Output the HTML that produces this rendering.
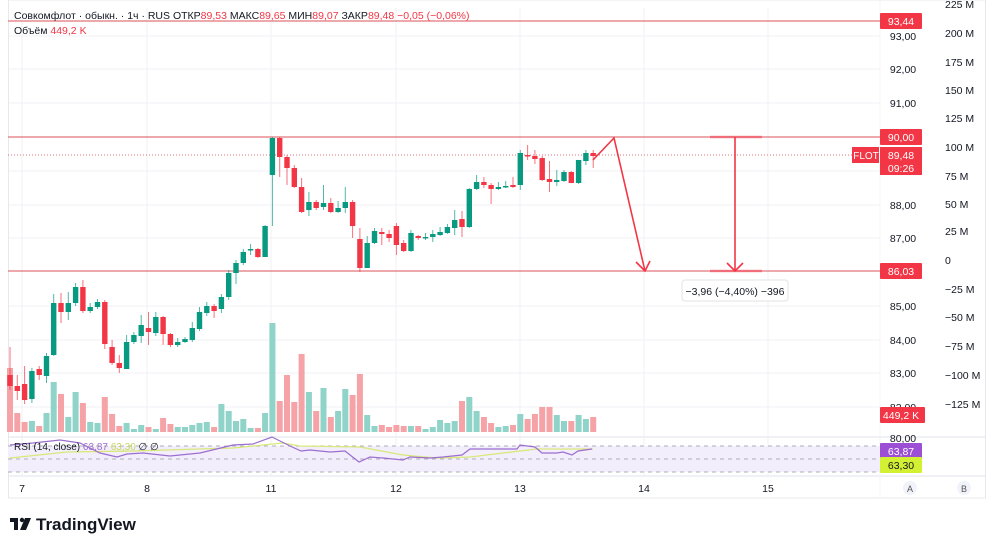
<!DOCTYPE html>
<html><head><meta charset="utf-8">
<style>
html,body{margin:0;padding:0;background:#fff;width:1000px;height:550px;overflow:hidden;font-family:"Liberation Sans","Noto Sans CJK SC",sans-serif;}
svg{position:absolute;left:0;top:0}
</style></head><body>
<svg id="s" width="1000" height="550" xmlns="http://www.w3.org/2000/svg" font-family="Liberation Sans, sans-serif"></svg>
<script>
var C=[
[375,386,0,347,390],[386,391,0,375,400],[384,400,0,366,404],[371,399,1,368,403],[369,375,0,366,380],[356,376,1,353,383],[303,355,1,294,356],[303,312,0,293,323],[303,312,1,292,320],[287,303,1,283,306],
[287,311,0,280,313],[307,311,1,303,313],[302,307,1,299,309],[302,344,0,300,349],[347,363,0,340,365],[363,368,0,355,373],[342,369,1,335,369],[335,342,1,332,344],[325,336,1,315,343],[328,332,0,312,345],
[317,333,1,312,336],[317,334,0,316,345],[334,345,0,333,347],[342,345,1,338,347],[339,342,1,337,343],[328,340,1,322,342],[312,329,1,307,331],[306,313,1,302,316],[306,311,0,304,318],[297,309,1,294,313],
[273,297,1,270,300],[263,273,1,260,284],[252,263,1,249,265],[249,250,1,244,255],[249,257,0,248,258],[226,257,1,225,257],[138,175,1,137,226],[138,157,0,137,177],[157,168,0,155,185],[168,187,0,165,188],
[187,212,0,178,213],[202,210,1,192,216],[202,208,0,200,210],[203,207,1,185,210],[203,212,0,198,213],[208,212,1,201,213],[202,208,1,187,213],[202,226,0,200,238],[239,268,0,228,272],[243,268,1,236,268],
[231,243,1,228,244],[232,234,0,228,245],[234,238,0,230,242],[226,245,0,223,255],[243,251,0,240,252],[233,251,1,230,252],[236,238,0,235,240],[237,238,1,233,240],[234,237,1,230,242],[232,235,1,227,236],
[227,233,1,224,234],[220,228,1,210,235],[219,227,0,211,237],[189,227,1,188,228],[182,189,1,175,190],[182,185,0,177,188],[185,189,0,183,204],[187,189,1,182,190],[186,187,1,181,188],[185,187,0,177,188],
[153,185,1,150,190],[155,156,0,145,160],[156,159,0,150,164],[158,180,0,156,181],[179,182,0,161,192],[180,182,1,170,186],[172,181,1,170,182],[172,183,0,171,183],[160,183,1,160,184],[153,161,1,150,165],[153,156,0,150,168]];
var V=[368,413,422,421,426,413,382,394,417,392,403,422,423,397,414,426,423,429,425,427,429,418,424,427,427,425,423,422,427,404,411,421,419,428,428,413,323,401,375,402,354,392,411,388,417,411,389,395,374,415,426,425,427,425,426,426,426,429,427,420,423,421,401,397,411,417,423,427,426,425,414,419,414,407,407,415,421,421,415,419,417];
var h='';
var GR='#089981',RD='#f23645',LN='#e2737b';
// grid
[36,69,103,171,205,238,306,340,373,407].forEach(function(y){h+='<line x1="8" y1="'+y+'" x2="880" y2="'+y+'" stroke="#f0f2f5"/>';});
[22,147,271,396,520,644,768].forEach(function(x){h+='<line x1="'+x+'" y1="8" x2="'+x+'" y2="436" stroke="#f0f2f5"/><line x1="'+x+'" y1="437" x2="'+x+'" y2="476" stroke="#f0f2f5"/>';});
// frame
h+='<rect x="8.5" y="0" width="977" height="498" fill="none" stroke="#e8e8ec"/>';
h+='<line x1="8" y1="437" x2="985" y2="437" stroke="#e0e3eb"/><line x1="8" y1="476" x2="985" y2="476" stroke="#e0e3eb"/>';
h+='<line x1="880" y1="0" x2="880" y2="498" stroke="#f4f4f6"/>';
// volume
for(var i=0;i<V.length;i++){var x=10+7.29*i,c=C[i][2]?'#8fd3c9':'#f5a3a6';h+='<rect x="'+(x-3).toFixed(1)+'" y="'+V[i]+'" width="6" height="'+(432-V[i])+'" fill="'+c+'"/>';}
// lines
h+='<line x1="8" y1="21" x2="880" y2="21" stroke="'+LN+'" stroke-width="1.2"/>';
h+='<line x1="8" y1="137" x2="880" y2="137" stroke="'+LN+'" stroke-width="1.2"/>';
h+='<line x1="8" y1="271" x2="880" y2="271" stroke="'+LN+'" stroke-width="1.2"/>';
h+='<line x1="8" y1="155" x2="880" y2="155" stroke="'+LN+'" stroke-dasharray="1,2"/>';
// candles
for(var i=0;i<C.length;i++){var d=C[i],x=10+7.29*i,c=d[2]?GR:RD;
h+='<line x1="'+x.toFixed(1)+'" y1="'+d[3]+'" x2="'+x.toFixed(1)+'" y2="'+d[4]+'" stroke="'+c+'" stroke-opacity="0.7"/>';
h+='<rect x="'+(x-2.7).toFixed(1)+'" y="'+d[0]+'" width="5.4" height="'+Math.max(1.5,d[1]-d[0])+'" fill="'+c+'"/>';}
// arrows
h+='<polyline points="593,160 614,138 645,271" fill="none" stroke="'+RD+'" stroke-width="1.6"/>';
h+='<polyline points="636,262 645,271 650,261" fill="none" stroke="'+RD+'" stroke-width="1.6"/>';
h+='<line x1="710" y1="137" x2="762" y2="137" stroke="'+RD+'" stroke-width="2.5" stroke-opacity="0.5"/><line x1="710" y1="271" x2="762" y2="271" stroke="'+RD+'" stroke-width="2.5" stroke-opacity="0.5"/>';
h+='<line x1="735" y1="137" x2="735" y2="271" stroke="'+RD+'" stroke-width="1.6"/><polyline points="727,263 735,271 743,263" fill="none" stroke="'+RD+'" stroke-width="1.6"/>';
h+='<rect x="682" y="280" width="106" height="21" rx="3" fill="#fff" stroke="#e3e3e6"/><text x="735" y="295" font-size="10.5" text-anchor="middle" fill="#131722">−3,96 (−4,40%) −396</text>';
// RSI
h+='<rect x="8" y="446" width="872" height="26" fill="#f3eefb"/>';
[446,459,472].forEach(function(y){h+='<line x1="8" y1="'+y+'" x2="880" y2="'+y+'" stroke="#9598a1" stroke-dasharray="4,4" stroke-width="0.8"/>';});
h+='<polyline fill="none" stroke="#d9e87a" stroke-width="1.3" points="10,458 67,452 133,451 233,448 283,443 300,446 360,447 403,455 437,458 470,457 503,453 537,449 593,449"/>';
h+='<polyline fill="none" stroke="#9c6ed0" stroke-width="1.2" points="10,445 33,443 60,440 80,443 100,453 117,457 127,454 143,453 170,456 200,453 233,445 253,444 272,437 280,441 290,446 301,451 310,450 330,452 345,451 359,462 370,457 383,458 403,460 410,457 430,458 443,457 462,455 470,449 483,449 517,449 520,445 535,447 542,453 557,453 563,452 572,455 578,451 592,449"/>';
// header text
h+='<text x="14" y="19" font-size="10.5" fill="#131722">Совкомфлот · обыкн. · 1ч · RUS  ОТКР<tspan fill="'+RD+'">89,53</tspan>  МАКС<tspan fill="'+RD+'">89,65</tspan>  МИН<tspan fill="'+RD+'">89,07</tspan>  ЗАКР<tspan fill="'+RD+'">89,48  −0,05 (−0,06%)</tspan></text>';
h+='<text x="14" y="34" font-size="10.5" fill="#131722">Объём  <tspan fill="'+RD+'">449,2 K</tspan></text>';
h+='<text x="14" y="450" font-size="10" fill="#131722">RSI (14, close) <tspan fill="#9c6ed0">63,87</tspan> <tspan fill="#c8d860">63,30</tspan>  ∅ ∅</text>';
// price axis
var P=[[36,'93,00'],[69,'92,00'],[103,'91,00'],[205,'88,00'],[238,'87,00'],[306,'85,00'],[340,'84,00'],[373,'83,00'],[407,'82,00'],[438,'80,00']];
P.forEach(function(p){h+='<text x="903" y="'+(p[0]+4)+'" font-size="10.5" text-anchor="middle" fill="#131722">'+p[1]+'</text>';});
var M=[[4,'225 M'],[33,'200 M'],[62,'175 M'],[90,'150 M'],[118,'125 M'],[147,'100 M'],[176,'75 M'],[204,'50 M'],[231,'25 M'],[260,'0'],[289,'−25 M'],[317,'−50 M'],[346,'−75 M'],[375,'−100 M'],[404,'−125 M']];
M.forEach(function(p){h+='<text x="945" y="'+(p[0]+4)+'" font-size="10.5" fill="#131722">'+p[1]+'</text>';});
function lab(y,t,bg,fg,w){h+='<rect x="880" y="'+(y-8)+'" width="'+(w||42)+'" height="16" rx="1" fill="'+bg+'"/><text x="901" y="'+(y+4)+'" font-size="10.5" text-anchor="middle" fill="'+(fg||'#fff')+'">'+t+'</text>';}
lab(21,'93,44',RD);lab(137,'90,00',RD);lab(271,'86,03',RD);lab(415,'449,2 K',RD,'#fff',45);
h+='<rect x="880" y="147" width="42" height="28" fill="'+RD+'"/><text x="901" y="159" font-size="10.5" text-anchor="middle" fill="#fff">89,48</text><text x="901" y="172" font-size="10.5" text-anchor="middle" fill="#fff">09:26</text>';
h+='<rect x="852" y="147" width="27" height="16" fill="'+RD+'"/><text x="866" y="159" font-size="10" text-anchor="middle" fill="#fff">FLOT</text>';
lab(451,'63,87','#9c4fd4');lab(465,'63,30','#d4f032','#131722');
// time axis
[[22,'7'],[147,'8'],[271,'11'],[396,'12'],[520,'13'],[644,'14'],[768,'15']].forEach(function(p){h+='<text x="'+p[0]+'" y="492" font-size="10.5" text-anchor="middle" fill="#131722">'+p[1]+'</text>';});
h+='<circle cx="910" cy="488" r="7" fill="#f0f3fa"/><text x="910" y="492" font-size="9" text-anchor="middle" fill="#555">A</text>';
h+='<circle cx="964" cy="488" r="7" fill="#f0f3fa"/><text x="964" y="492" font-size="9" text-anchor="middle" fill="#555">B</text>';
// logo
h+='<rect x="10" y="518" width="8" height="4" fill="#131722"/><rect x="14" y="518" width="4" height="12" fill="#131722"/><circle cx="22" cy="520" r="2.2" fill="#131722"/><polygon points="25,518 31,518 26,530 20,530" fill="#131722"/>';
h+='<text x="36" y="530" font-size="17" font-weight="bold" fill="#131722">TradingView</text>';
document.getElementById('s').innerHTML=h;
</script>
</body></html>
